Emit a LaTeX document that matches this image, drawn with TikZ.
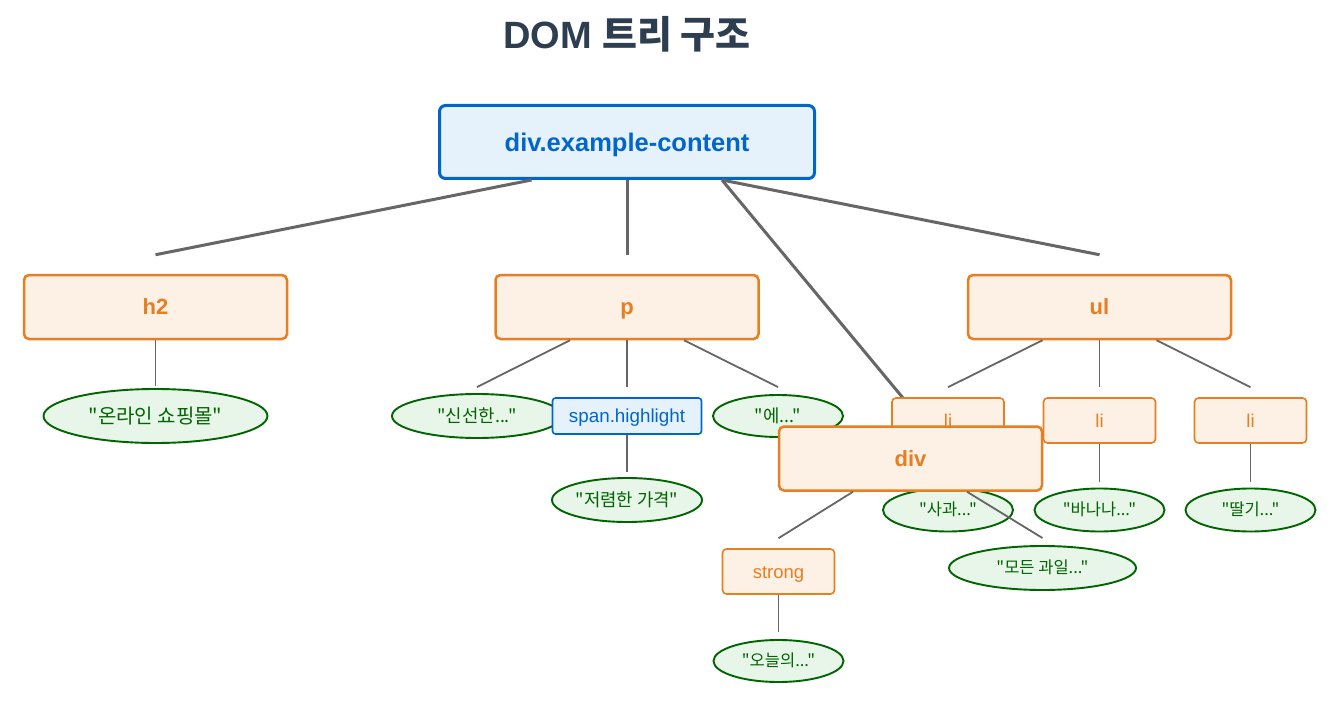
\documentclass[tikz,border=0pt]{standalone}
\usepackage{fontspec}
\setmainfont{Liberation Sans}
\newfontfamily\cjk{Noto Sans CJK KR}
\usetikzlibrary{shapes.geometric,calc}
\definecolor{blueS}{HTML}{0066CC}
\definecolor{blueF}{HTML}{E6F2FB}
\definecolor{orS}{HTML}{E67E22}
\definecolor{orF}{HTML}{FDF0E4}
\definecolor{grS}{HTML}{006400}
\definecolor{grF}{HTML}{E8F5E9}
\definecolor{edgeC}{HTML}{666666}
\definecolor{titleC}{HTML}{2C3E50}
\begin{document}
\begin{tikzpicture}[x=1pt,y=-1pt,inner sep=0pt,text depth=0pt,
  rootbox/.style={draw=blueS,fill=blueF,line width=3pt,rounded corners=6pt,minimum width=375pt,minimum height=73pt,text=blueS,font=\fontsize{25.5}{30}\selectfont\bfseries,text height=18.4pt},
  elbox/.style={draw=orS,fill=orF,line width=2.5pt,rounded corners=5pt,minimum width=263pt,minimum height=64pt,text=orS,font=\fontsize{22}{26}\selectfont\bfseries,text height=15.8pt},
  smallbox/.style={draw=orS,fill=orF,line width=1.6pt,rounded corners=4pt,minimum width=112pt,minimum height=45pt,text=orS,font=\fontsize{18.5}{22}\selectfont,text height=13.3pt},
  spanbox/.style={draw=blueS,fill=blueF,line width=1.6pt,rounded corners=3pt,minimum width=149pt,minimum height=36pt,text=blueS,font=\fontsize{18.8}{22}\selectfont,text height=13.5pt},
  textell/.style={ellipse,draw=grS,fill=grF,line width=1.9pt,text=grS,font=\cjk\fontsize{16.5}{20}\selectfont,text height=11.9pt},
  midtext/.style={font=\cjk\fontsize{17.8}{21}\selectfont,text height=12.8pt},
  bigtext/.style={font=\cjk\fontsize{20}{24}\selectfont,text height=14.4pt},
  bigedge/.style={draw=edgeC,line width=3pt},
  smalledge/.style={draw=edgeC,line width=1.8pt}]
\useasboundingbox (0,0) rectangle (1339,706);
\fill[white] (0,0) rectangle (1339,706);

\node[text=titleC,font=\fontsize{38}{44}\selectfont\bfseries,text height=27.4pt] (title) at (627,35) {DOM {\cjk 트리 구조}};

\node[rootbox] (root) at (627,142) {div.example-content};

\node[elbox] (h2) at (155.5,307) {h2};
\node[elbox] (p) at (627,307) {p};
\node[elbox] (ul) at (1099.5,307) {ul};
\coordinate (divtip) at (903,398);

\draw[bigedge] ($(root.south)+(-95.5,0)$) -- ($(h2.north)+(0,-19)$);
\draw[bigedge] (root.south) -- ($(p.north)+(0,-19)$);
\draw[bigedge] ($(root.south)+(95,0)$) -- ($(ul.north)+(0,-19)$);
\draw[bigedge] ($(root.south)+(95,0)$) -- (divtip);

% h2 subtree
\node[textell,bigtext,minimum width=224pt,minimum height=54pt] (th2) at (155.5,416) {"온라인 쇼핑몰"};
\draw[smalledge] (h2.south) -- ($(th2.north)+(0,-2)$);

% p subtree
\node[textell,midtext,minimum width=170pt,minimum height=44pt] (tp1) at (477,416) {"신선한..."};
\node[textell,midtext,minimum width=130pt,minimum height=42pt] (tp3) at (778,416) {"에..."};
\node[spanbox] (span) at (627,416) {span.highlight};
\node[textell,midtext,minimum width=150pt,minimum height=44pt] (tspan) at (627,500) {"저렴한 가격"};
\draw[smalledge] ($(p.south)+(-57,0)$) -- ($(tp1.north)+(0,-6)$);
\draw[smalledge] (p.south) -- ($(span.north)+(0,-10)$);
\draw[smalledge] ($(p.south)+(57,0)$) -- ($(tp3.north)+(0,-7)$);
\draw[smalledge] (span.south) -- ($(tspan.north)+(0,-5)$);

% ul subtree
\node[smallbox] (li1) at (948,420.5) {li};
\node[smallbox] (li2) at (1099.5,420.5) {li};
\node[smallbox] (li3) at (1250.5,420.5) {li};
\draw[smalledge] ($(ul.south)+(-57,0)$) -- ($(li1.north)+(0,-10)$);
\draw[smalledge] (ul.south) -- ($(li2.north)+(0,-10)$);
\draw[smalledge] ($(ul.south)+(57,0)$) -- ($(li3.north)+(0,-10)$);
\node[textell,minimum width=130pt,minimum height=43pt] (tli1) at (948,510) {"사과..."};
\node[textell,minimum width=130pt,minimum height=43pt] (tli2) at (1099.5,510) {"바나나..."};
\node[textell,minimum width=130pt,minimum height=43pt] (tli3) at (1250.5,510) {"딸기..."};
\draw[smalledge] (li1.south) -- ($(tli1.north)+(0,-6)$);
\draw[smalledge] (li2.south) -- ($(tli2.north)+(0,-6)$);
\draw[smalledge] (li3.south) -- ($(tli3.north)+(0,-6)$);

% div subtree
\node[elbox] (div) at (910.5,458.5) {div};
\node[smallbox] (strong) at (778.5,571.5) {strong};
\node[textell,minimum width=187pt,minimum height=44pt] (tdiv) at (1042.5,568) {"모든 과일..."};
\node[textell,minimum width=130pt,minimum height=42pt] (tstrong) at (778.5,661) {"오늘의..."};
\draw[smalledge] ($(div.south)+(-57.5,0)$) -- ($(strong.north)+(0,-10)$);
\draw[smalledge] ($(div.south)+(56.5,0)$) -- ($(tdiv.north)+(0,-7)$);
\draw[smalledge] (strong.south) -- ($(tstrong.north)+(0,-7)$);
\end{tikzpicture}
\end{document}
